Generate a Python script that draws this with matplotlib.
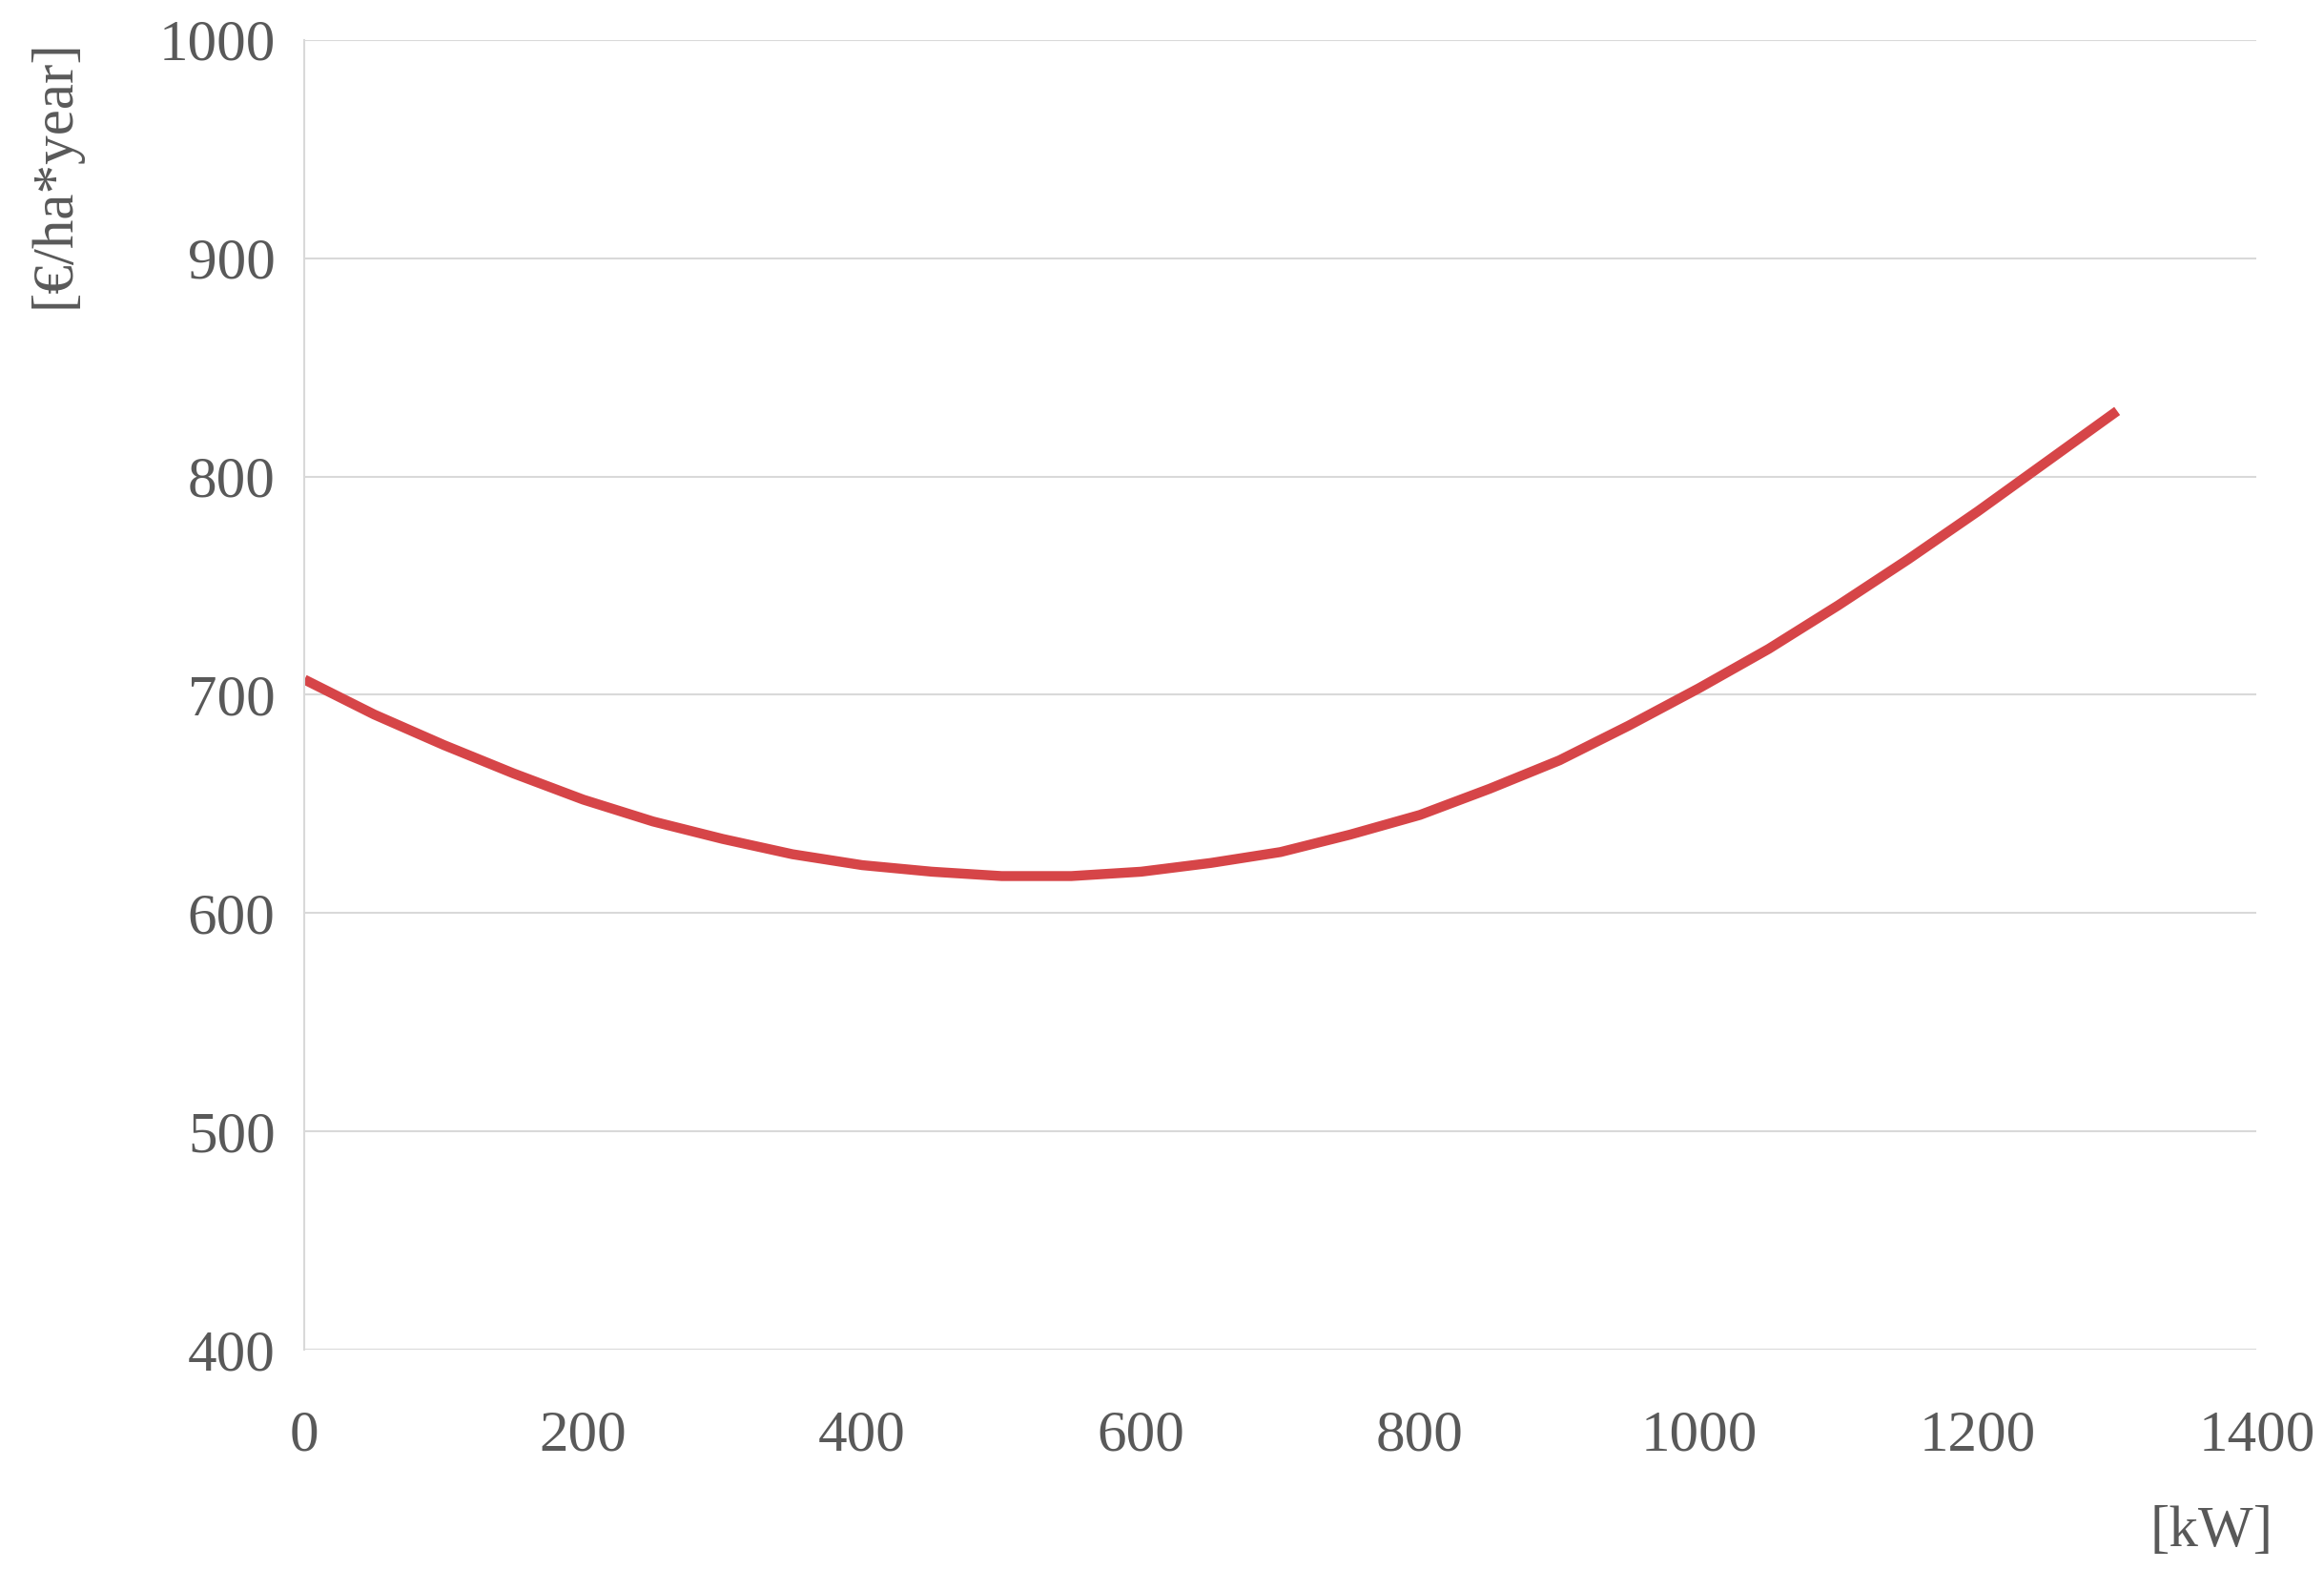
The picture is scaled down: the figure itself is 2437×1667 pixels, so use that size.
import matplotlib.pyplot as plt

power_kw = [0, 50, 100, 150, 200, 250, 300, 350, 400, 450, 500, 550, 600, 650,
            700, 750, 800, 850, 900, 950, 1000, 1050, 1100, 1150, 1200, 1250, 1300]
cost = [707, 691, 677, 664, 652, 642, 634, 627, 622, 619, 617, 617, 619, 623,
        628, 636, 645, 657, 670, 686, 703, 721, 741, 762, 784, 807, 830]
y_ticks = [400, 500, 600, 700, 800, 900, 1000]
x_ticks = [0, 200, 400, 600, 800, 1000, 1200, 1400]

grey = '#595959'
plt.rcParams['font.family'] = ['Liberation Serif', 'DejaVu Serif']

fig = plt.figure(figsize=(24.37, 16.67), dpi=100)
ax = fig.add_axes([0.131, 0.151, 0.84, 0.824])

ax.plot(power_kw, cost, color='#d64548', linewidth=7.5, solid_capstyle='butt')

ax.set_xlim(0, 1400)
ax.set_ylim(400, 1000)
ax.set_xticks(x_ticks)
ax.set_yticks(y_ticks)
ax.grid(axis='y', color='#d9d9d9', linewidth=1.5)
ax.set_axisbelow(True)
for side in ['top', 'right', 'bottom']:
    ax.spines[side].set_visible(False)
ax.spines['left'].set_color('#d9d9d9')
ax.spines['left'].set_linewidth(1.5)
ax.tick_params(length=0, labelsize=44, labelcolor=grey, pad=22)
ax.tick_params(axis='x', pad=45)

fig.text(0.012, 0.975, '[€/ha*year]', rotation=90, ha='left', va='top',
         fontsize=44, color=grey)
fig.text(0.978, 0.02, '[kW]', ha='right', va='bottom', fontsize=44, color=grey)

fig.savefig('out.png', dpi=100)
